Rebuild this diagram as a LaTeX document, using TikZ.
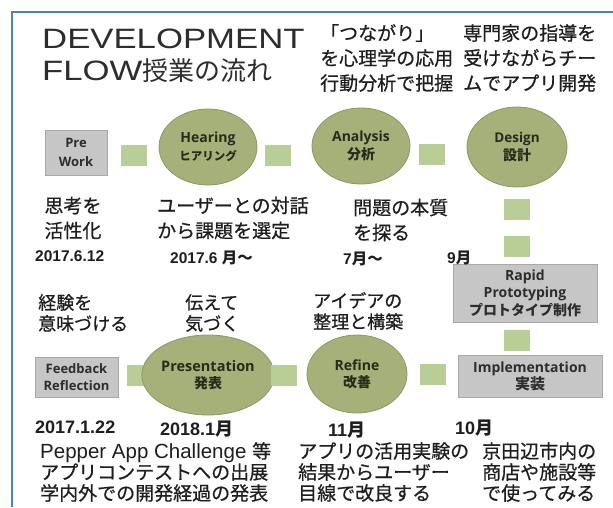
\documentclass[tikz,border=0pt]{standalone}
\usepackage{graphicx}
\usepackage{fontspec}
\setmainfont{Liberation Sans}
\newfontfamily\cjk{Noto Sans CJK JP}
\newfontfamily\cjkd[FakeBold=0.6]{Noto Sans CJK JP}
\newfontfamily\lab{Open Sans}
\usetikzlibrary{shapes.geometric}
\definecolor{frameC}{RGB}{79,129,189}
\definecolor{ellF}{RGB}{165,177,120}
\definecolor{ellD}{RGB}{140,152,100}
\definecolor{ellT}{RGB}{38,44,28}
\definecolor{sqF}{RGB}{185,205,150}
\definecolor{boxF}{RGB}{198,198,198}
\definecolor{boxD}{RGB}{168,168,168}
\definecolor{boxT}{RGB}{45,45,45}
\definecolor{txt}{RGB}{30,30,30}
\definecolor{titleC}{RGB}{45,45,45}
\tikzset{
  ell/.style={ellipse, draw=ellD, fill=ellF, line width=0.8pt, minimum width=98pt,
    minimum height=76pt, inner sep=0pt, align=center, text=ellT},
  gbox/.style={rectangle, draw=boxD, fill=boxF, line width=0.8pt, inner sep=0pt,
    align=center, text=boxT},
  sq/.style={rectangle, fill=sqF, minimum width=26pt, minimum height=21pt, inner sep=0pt},
  desc/.style={align=left, inner sep=0pt, text=txt, anchor=west,
    font=\cjkd\fontsize{19}{25}\selectfont},
  descb/.style={align=left, inner sep=0pt, text=txt, anchor=west,
    font=\cjkd\fontsize{18}{21}\selectfont},
  descc/.style={align=left, inner sep=0pt, text=txt, anchor=west,
    font=\cjkd\fontsize{19}{21}\selectfont},
  datea/.style={inner sep=0pt, text=txt, anchor=west,
    font=\bfseries\fontsize{15.5}{16}\selectfont},
  dateb/.style={inner sep=0pt, text=txt, anchor=west,
    font=\bfseries\fontsize{18}{18}\selectfont},
  titletext/.style={inner sep=0pt, text=titleC, anchor=base west,
    font=\fontsize{28}{30}\selectfont}
}
\newcommand{\jt}[2]{{\cjk\fontsize{#1}{#1}\selectfont #2}}
\begin{document}
\begin{tikzpicture}[x=1pt,y=-1pt]
\useasboundingbox[fill=white] (0,0) rectangle (613,507);
\coordinate (fa) at (12,507);
\coordinate (fb) at (12,12);
\coordinate (fc) at (613,12);
\draw[frameC, line width=1.8pt] (fa) -- (fb) -- (fc);

% title
\node[titletext] (t1) at (42,48) {\scalebox{1.24}[1]{DEVELOPMENT}};
\node[titletext] (t2) at (42,80) {\scalebox{1.24}[1]{FLOW}{\cjk\fontsize{26}{26}\selectfont 授業の流れ}};

% row 1
\node[gbox, minimum width=62pt, minimum height=45pt, font=\lab\bfseries\fontsize{13}{19}\selectfont] (pre) at (76,152.5) {Pre\\Work};
\node[sq] (g1) at (134,155) {};
\node[ell, font=\lab\bfseries\fontsize{14}{18}\selectfont] (hear) at (208,147) {Hearing\\\jt{11.5}{\bfseries ヒアリング}};
\node[sq] (g2) at (278,155) {};
\node[ell, font=\lab\bfseries\fontsize{14}{18}\selectfont] (ana) at (361,146) {Analysis\\\jt{14}{\bfseries 分析}};
\node[sq] (g3) at (432,154) {};
\node[ell, minimum width=100pt, minimum height=80pt, font=\lab\bfseries\fontsize{13.5}{18}\selectfont] (des) at (517,147) {Design\\\jt{14}{\bfseries 設計}};

% column
\node[sq] (g4) at (517,209) {};
\node[sq] (g5) at (517,246) {};
\node[gbox, minimum width=144pt, minimum height=58pt, font=\lab\bfseries\fontsize{14}{17.5}\selectfont] (rap) at (525,293) {Rapid\\Prototyping\\\jt{14}{\bfseries プロトタイプ制作}};
\node[sq] (g6) at (517,340) {};
\node[gbox, minimum width=144pt, minimum height=42pt, font=\lab\bfseries\fontsize{14}{17}\selectfont] (imp) at (530,376) {Implementation\\\jt{15}{\bfseries 実装}};

% row 2
\node[gbox, minimum width=83pt, minimum height=40pt, font=\lab\bfseries\fontsize{13}{17}\selectfont] (fb) at (76.5,377) {Feedback\\Reflection};
\node[sq] (g7) at (140,375) {};
\node[ell, minimum width=100pt, minimum height=80pt, font=\lab\bfseries\fontsize{14.5}{17}\selectfont] (pres) at (208,375) {Presentation\\\jt{14}{\bfseries 発表}};
\node[sq] (g8) at (284,375) {};
\node[ell, minimum width=100pt, minimum height=78pt, font=\lab\bfseries\fontsize{14}{17}\selectfont] (ref) at (357,374) {Refine\\\jt{14}{\bfseries 改善}};
\node[sq] (g9) at (433,374) {};

% descriptions top
\node[desc] (d1) at (320,58) {「つながり」\\を心理学の応用\\行動分析で把握};
\node[desc] (d2) at (463,58) {専門家の指導を\\受けながらチー\\ムでアプリ開発};

% row 1 descriptions
\node[desc, anchor=center, align=center] (d3) at (73,218) {思考を\\活性化};
\node[desc] (d4) at (157,218) {ユーザーとの対話\\から課題を選定};
\node[desc] (d5) at (353,220) {問題の本質\\を探る};

% row 1 dates
\node[datea] (s1) at (35,256) {2017.6.12};
\node[datea] (s2) at (170,258) {2017.6 {\cjk 月～}};
\node[datea] (s3) at (343,259) {7{\cjk 月～}};
\node[datea] (s4) at (447,258) {9{\cjk 月}};

% row 2 descriptions
\node[descb] (d6) at (38,313) {経験を\\意味づける};
\node[descb] (d7) at (185,313) {伝えて\\気づく};
\node[descb] (d8) at (313,311) {アイデアの\\整理と構築};

% row 2 dates
\node[dateb] (s5) at (35,427) {2017.1.22};
\node[dateb] (s6) at (160,429) {2018.1{\cjk 月}};
\node[dateb] (s7) at (328,430) {11{\cjk 月}};
\node[dateb] (s8) at (455,428) {10{\cjk 月}};

% bottom descriptions
\node[descc] (d9) at (40,472) {{\rmfamily\fontsize{20.5}{21}\selectfont Pepper App Challenge }等\\アプリコンテストへの出展\\学内外での開発経過の発表};
\node[descc] (d10) at (298,472) {アプリの活用実験の\\結果からユーザー\\目線で改良する};
\node[descc] (d11) at (482,472) {京田辺市内の\\商店や施設等\\で使ってみる};
\end{tikzpicture}
\end{document}
